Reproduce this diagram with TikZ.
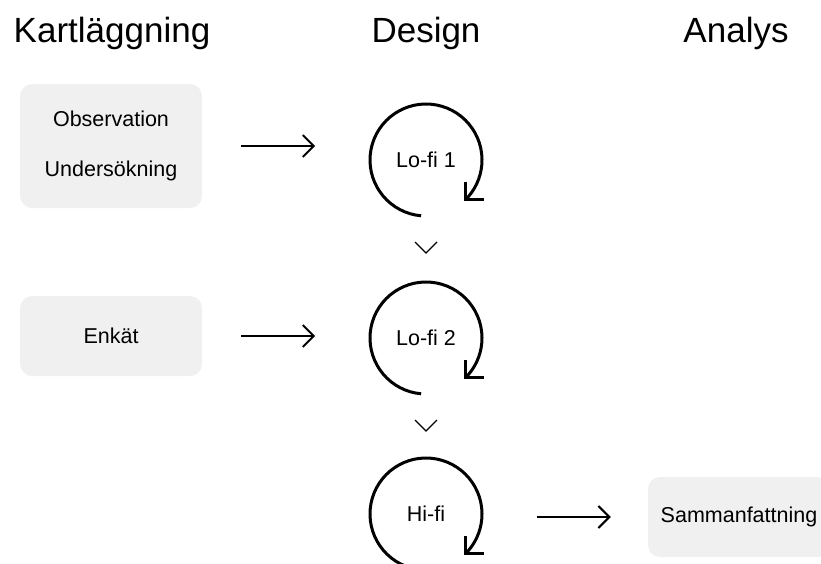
\documentclass[tikz,border=0pt]{standalone}
\usepackage{fontspec}
\setmainfont{Liberation Sans}
\usetikzlibrary{arrows.meta}
\definecolor{boxgray}{HTML}{F0F0F0}

\begin{document}
\begin{tikzpicture}[x=1pt, y=1pt,
    heading/.style={anchor=base, font=\fontsize{35pt}{42pt}\selectfont},
    stage/.style={rectangle, rounded corners=12pt, fill=boxgray, minimum width=182pt,
                  minimum height=80pt, align=center, font=\fontsize{21.5pt}{50pt}\selectfont},
    iter/.style={circle, minimum size=112pt, inner sep=0pt, outer sep=0pt,
                 font=\fontsize{21.5pt}{26pt}\selectfont},
    ring/.style={line width=3pt, line join=miter},
    flow/.style={line width=2pt, -{Straight Barb[length=11pt, width=22pt]}},
    chevron/.style={line width=1.3pt}]
        \useasboundingbox (0,0) rectangle (821,-563);
        % headings of the three phases
        \node[heading] (kart)   at (112,-42) {Kartläggning};
        \node[heading] (design) at (426,-42) {Design};
        \node[heading] (analys) at (736,-42) {Analys};
        % boxes for the methods
        \node[stage, minimum height=124pt] (obs) at (111,-146) {Observation\\Undersökning};
        \node[stage] (enkat)   at (111,-336) {Enkät};
        \node[stage] (summary) at (739,-517) {Sammanfattning};
        % the iterations
        \node[iter] (lofi1) at (426,-160) {Lo-fi 1};
        \node[iter] (lofi2) at (426,-338) {Lo-fi 2};
        \node[iter] (hifi)  at (426,-514) {Hi-fi};
        % drawing the loops round the iterations
        \draw[ring] (lofi1.265) arc[start angle=265, end angle=-45, radius=56];
        \draw[ring] (lofi2.265) arc[start angle=265, end angle=-45, radius=56];
        \draw[ring] (hifi.265)  arc[start angle=265, end angle=-45, radius=56];
        \draw[ring] ([yshift=18]lofi1.-45) |- ++(18,-18);
        \draw[ring] ([yshift=18]lofi2.-45) |- ++(18,-18);
        \draw[ring] ([yshift=18]hifi.-45)  |- ++(18,-18);
        % drawing the chevrons between the iterations
        \draw[chevron] ([shift={(-11,-26)}]lofi1.south) -- ++(11,-11) -- ++(11,11);
        \draw[chevron] ([shift={(-11,-26)}]lofi2.south) -- ++(11,-11) -- ++(11,11);
        % drawing the arrows
        \draw[flow] ([xshift=39]obs.east)     -- ([xshift=113]obs.east);
        \draw[flow] ([xshift=39]enkat.east)   -- ([xshift=113]enkat.east);
        \draw[flow] ([xshift=-111]summary.west) -- ([xshift=-37]summary.west);
      \end{tikzpicture}
\end{document}
